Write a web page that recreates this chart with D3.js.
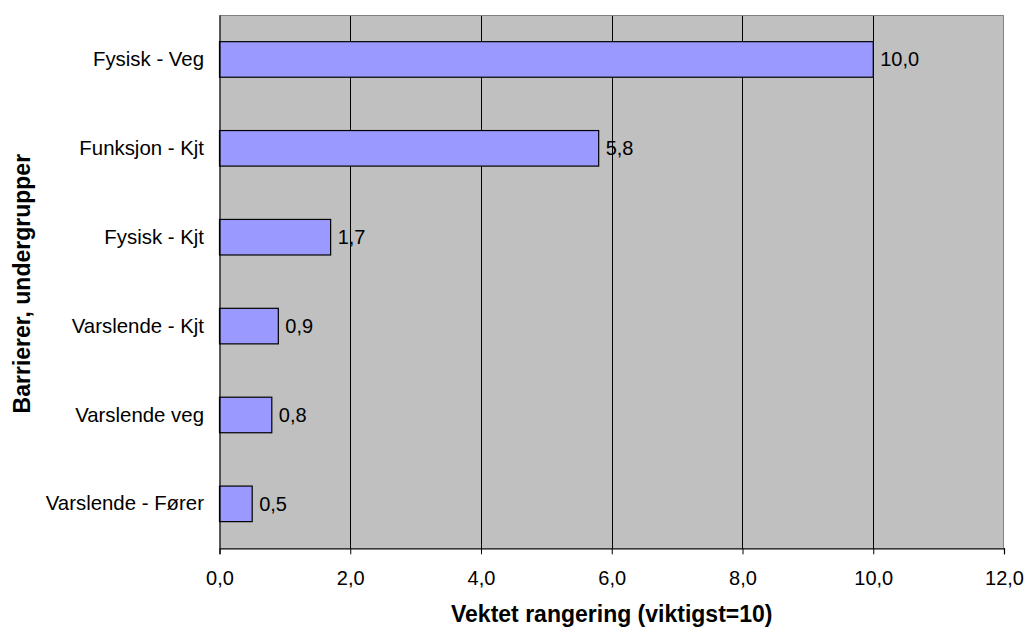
<!DOCTYPE html>
<html>
<head>
<meta charset="utf-8">
<script src="https://cdn.jsdelivr.net/npm/d3@7"></script>
<style>
  html, body { margin: 0; padding: 0; background: #ffffff; }
  svg { display: block; font-family: "Liberation Sans", Arial, sans-serif; }
</style>
</head>
<body>
<svg id="chart" width="1028" height="628"></svg>
<script>
// Barriers, sub-groups, with their weighted ranking (most important = 10)
const categories = ["Fysisk - Veg", "Funksjon - Kjt", "Fysisk - Kjt", "Varslende - Kjt", "Varslende veg", "Varslende - Fører"];
const values = [10.0, 5.8, 1.7, 0.9, 0.8, 0.5];
const xTicks = [0, 2, 4, 6, 8, 10, 12];
const xTitle = "Vektet rangering (viktigst=10)";
const yTitle = "Barrierer, undergrupper";

// Norwegian number format: decimal comma
const nb = d3.formatLocale({ decimal: ",", thousands: " ", grouping: [3], currency: ["kr ", ""] });
const fmt = nb.format(".1f");

const svg = d3.select("#chart");
const plot = { left: 219.5, right: 1004, top: 15, bottom: 548.3 };

const x = d3.scaleLinear().domain([0, 12]).range([plot.left, plot.right]);
const y = d3.scaleBand().domain(categories).range([plot.top, plot.bottom])
  .paddingInner(0.6).paddingOuter(0.3);

// plot background
svg.append("rect")
  .attr("x", plot.left).attr("y", plot.top)
  .attr("width", plot.right - plot.left).attr("height", plot.bottom - plot.top)
  .attr("fill", "#c0c0c0");

// vertical gridlines
svg.append("g")
  .selectAll("line")
  .data(xTicks.filter(t => t > 0 && t < 12))
  .join("line")
  .attr("x1", d => Math.round(x(d)) + 0.5).attr("x2", d => Math.round(x(d)) + 0.5)
  .attr("y1", plot.top).attr("y2", plot.bottom)
  .attr("stroke", "#000").attr("stroke-width", 1);

// top and right border of plot area
svg.append("path")
  .attr("d", `M${plot.left},${plot.top + 0.5}H${plot.right - 0.5}V${plot.bottom}`)
  .attr("fill", "none").attr("stroke", "#808080").attr("stroke-width", 1);

// bars
svg.append("g")
  .selectAll("rect")
  .data(values)
  .join("rect")
  .attr("x", x(0))
  .attr("y", (d, i) => y(categories[i]))
  .attr("width", d => x(d) - x(0))
  .attr("height", y.bandwidth())
  .attr("fill", "#9999ff")
  .attr("stroke", "#000")
  .attr("stroke-width", 1.2);

// value labels
svg.append("g")
  .selectAll("text")
  .data(values)
  .join("text")
  .attr("x", d => x(d) + 7)
  .attr("y", (d, i) => y(categories[i]) + y.bandwidth() / 2)
  .attr("dy", "0.35em")
  .attr("font-size", 20)
  .attr("fill", "#000")
  .text(d => fmt(d));

// x axis
const xAxis = svg.append("g")
  .attr("transform", `translate(0,${plot.bottom})`)
  .call(d3.axisBottom(x).tickValues(xTicks).tickFormat(fmt).tickSize(6).tickPadding(17));
xAxis.select(".domain").attr("stroke", "#000").attr("stroke-width", 1.2);
xAxis.selectAll(".tick line").attr("stroke", "#000");
xAxis.selectAll(".tick text")
  .attr("font-size", 20).attr("font-family", "Liberation Sans, Arial, sans-serif").attr("fill", "#000");

// y axis
const yAxis = svg.append("g")
  .attr("transform", `translate(${plot.left},0)`)
  .call(d3.axisLeft(y).tickSize(0).tickPadding(15.5));
yAxis.select(".domain").attr("stroke", "#000").attr("stroke-width", 1.2);
yAxis.selectAll(".tick text")
  .attr("font-size", 20.4).attr("font-family", "Liberation Sans, Arial, sans-serif").attr("fill", "#000");

// axis titles
svg.append("text")
  .attr("x", (plot.left + plot.right) / 2)
  .attr("y", 621.5)
  .attr("text-anchor", "middle")
  .attr("font-size", 23).attr("font-weight", "bold").attr("fill", "#000")
  .text(xTitle);

svg.append("text")
  .attr("transform", `translate(30,${(plot.top + plot.bottom) / 2 + 2}) rotate(-90)`)
  .attr("text-anchor", "middle")
  .attr("font-size", 23).attr("font-weight", "bold").attr("fill", "#000")
  .text(yTitle);
</script>
</body>
</html>
